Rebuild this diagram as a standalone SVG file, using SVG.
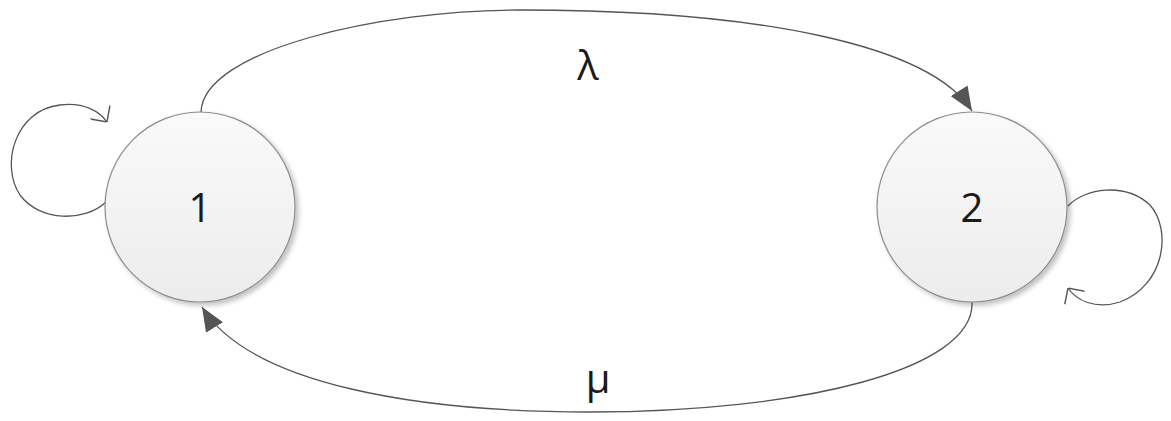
<svg xmlns="http://www.w3.org/2000/svg" width="1171" height="421" viewBox="0 0 1171 421">
<style>
.node{fill:url(#g);stroke:#8c8c8c;stroke-width:1.2}
.lbl{font-family:"Open Sans","Liberation Sans",sans-serif;font-size:40px;fill:#1a1a1a;text-anchor:middle}
.edge{fill:none;stroke:#555;stroke-width:1.3}
</style>
<defs>
<linearGradient id="g" x1="0" y1="0" x2="0" y2="1"><stop offset="0" stop-color="#fafafa"/><stop offset="1" stop-color="#ececec"/></linearGradient>
<filter id="sh" x="-20%" y="-20%" width="150%" height="150%"><feGaussianBlur in="SourceAlpha" stdDeviation="2.5"/><feOffset dx="3" dy="3"/><feComponentTransfer><feFuncA type="linear" slope="0.25"/></feComponentTransfer><feMerge><feMergeNode/><feMergeNode in="SourceGraphic"/></feMerge></filter>
<marker id="tri" viewBox="0 0 12 10" refX="12" refY="5" markerWidth="24" markerHeight="20" markerUnits="userSpaceOnUse" orient="auto"><path d="M0,0 L12,5 L0,10 z" fill="#555"/></marker>
<marker id="open" viewBox="0 0 10 10" refX="10" refY="5" markerWidth="24" markerHeight="24" markerUnits="userSpaceOnUse" orient="auto"><path d="M5,0 L10,5 L5,10" fill="none" stroke="#555" stroke-width="0.6"/></marker>
</defs>
<g id="connectors">
<path class="edge" d="M201,112 C203,50 380,10 520,10 C760,10 930,45 972,111" marker-end="url(#tri)"/>
<path class="edge" d="M972,302 C975,370 800,412 590,412 C420,412 250,385 202,307" marker-end="url(#tri)"/>
<path class="edge" d="M106,202 C85,222 40,222 20,195 C0,165 15,110 60,105 C85,102 100,112 107,122" marker-end="url(#open)"/>
<path class="edge" d="M1068,206 C1085,188 1125,182 1150,205 C1172,230 1165,285 1120,302 C1095,310 1076,300 1068,288" marker-end="url(#open)"/>
</g>
<g id="node1"><circle class="node" cx="200" cy="207" r="95" filter="url(#sh)"/><text class="lbl" x="200" y="222">1</text></g>
<g id="node2"><circle class="node" cx="972" cy="207" r="95" filter="url(#sh)"/><text class="lbl" x="972" y="222">2</text></g>
<g id="labels"><text class="lbl" x="588" y="80">λ</text><text class="lbl" x="598" y="393">μ</text></g>
</svg>
